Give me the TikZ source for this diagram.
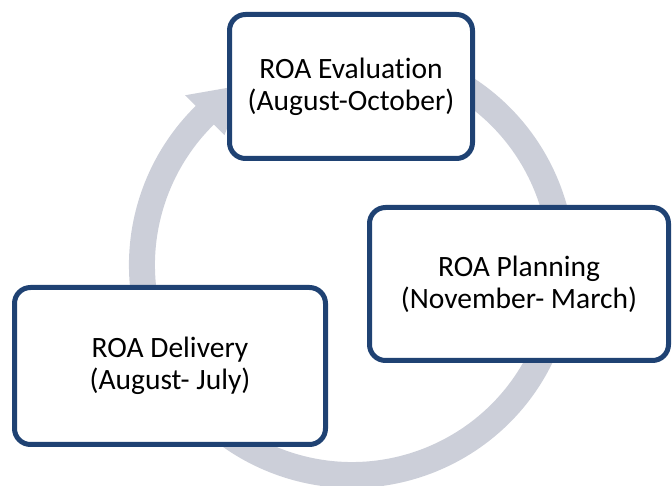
\documentclass[tikz,border=0pt]{standalone}
\usepackage{fontspec}
\setmainfont{Carlito}[Ligatures=CommonOff]
\definecolor{boxblue}{RGB}{31,66,115}
\definecolor{ringgray}{RGB}{204,207,217}
\tikzset{
  phasebox/.style={draw=boxblue, line width=5pt, fill=white, rounded corners=16pt,
    align=center, inner sep=0pt, font=\fontsize{29.5}{32}\selectfont, text=black},
  ring/.style={draw=ringgray, line width=26pt},
}
\begin{document}
\begin{tikzpicture}[x=1pt,y=1pt]
\useasboundingbox (0,0) rectangle (672,486);
\coordinate (c) at (352,221);
% cycle arrow
\draw[ring] ([shift={(70:210)}]c) arc[start angle=70, end angle=-226, radius=210];
\fill[ringgray] ([shift={(134.5:182)}]c) -- ([shift={(134.5:238)}]c) -- ([shift={(121:210)}]c) -- cycle;
% boxes
\node[phasebox, minimum width=243pt, minimum height=144pt] (eval) at (351,399.5) {ROA Evaluation\\(August-October)};
\node[phasebox, minimum width=299pt, minimum height=153pt] (plan) at (519,202) {ROA Planning\\(November- March)};
\node[phasebox, minimum width=311pt, minimum height=157pt] (deliv) at (170,120) {ROA Delivery\\(August- July)};
\end{tikzpicture}
\end{document}
